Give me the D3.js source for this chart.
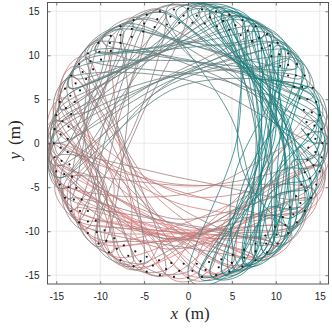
<!DOCTYPE html>
<html>
<head>
<meta charset="utf-8">
<script src="https://cdn.jsdelivr.net/npm/d3@7"></script>
<style>
body { margin: 0; background: #fff; }
svg { display: block; }
.axis text { font-family: "Liberation Sans", Arial, sans-serif; font-size: 10px; fill: #262626; }
.axis path { display: none; }
.axis line { stroke: #262626; stroke-width: 0.6; }
.label { font-family: "Liberation Serif", "Times New Roman", serif; font-size: 17px; fill: #262626; }
</style>
</head>
<body>
<div id="container"></div>
<script>
var ticks = [-15, -10, -5, 0, 5, 10, 15];

// trajectory waypoints (m), in time order: pink first, teal last
var trajX = [7.5,-2.1, -12.3,-13.7,-4.6, 1.3,5.0,-5.8, -14.8,-14.5,-7.8, -2.6,1.3,3.8, 11.5,13.2,2.8,
  -5.1,-8.4,1.9, 9.6,12.6,0, -9.6,-12.6,-1.9, 5.1,9.4,-3.6, -13.0,-14.4,-5.5,
  0,5.0,5.5, 13.0,14.4,2.5, -7.5,-11.2,0, 7.5,11.2,-1.8, -11.5,-13.7,-3.8, 2.6,7.3,-5.3,
  -14.1,-14.6,-0.6, 13.3,14.4,1.5, -9.5,-12.6,-10.3, -15.0,-12.6,-4.0, 7.5,11.2,-3.5,
  -15.2,-14.4,0, 14.6,14.4,4.3, -5.2,-9.4,-8.6, -14.5,-11.2,-5.7, 2.6,7.3,-4.7,
  -13.0,-14.4,-0.7, 11.6,13.7,-2.4, -15.3,-13.7,-6.7, 0,5.0,6.3, 13.9,14.6,1.6,
  -11.5,-13.7,-11.0, -13.2,-9.4,-7.2, -2.6,2.5,4.8, 15.0,14.5,0.6, -13.7,-14.6,-3.1,
  7.7,11.2,-4.4, -14.9,-13.2,-9.5, -7.6,-2.5,2.5, 13.0,14.4,-1.2, -14.6,-14.4,-4.3,
  5.2,9.4,-3.6, -12.6,-14.1,2.0, 14.9,14.1,6.1, -1.3,-6.2,-7.0, -14.5,-12.0,-3.7,
  9.8,12.6,-2.6, -14.9,-14.5,-8.8, -5.1,0,2.8, 11.5,13.7,-1.5, -15.1,-14.1,-10.6,
  -9.9,-5.0,-1.9, 5.1,9.4,-4.0, -13.6,-14.5,0.5, 13.8,14.5,3.2, -6.5,-10.3,-9.3,
  -14.6,-12.6,-5.9, 1.3,6.2,-4.1, -10.7,-13.2,0, 10.6,13.2,-2.8, -14.8,-14.4,-10.0,
  -7.6,-2.5,-6.2, -12.3,-8.4,-11.8, -9.9,-5.0,-8.0, -14.3,-11.2,-7.4, -2.6,2.5,-7.8,
  -15.2,-14.4,-10.0, -7.4,-2.5,-6.5, -12.4,-8.4,-11.7, -15.3,-12.6,-8.7, -5.1,0,-5.6,
  -10.6,-6.2,-10.8, -13.8,-10.3,-4.4, 2.6,7.3,-5.1, -14.7,-13.2,-11.3, -10.9,-6.2,-12.2,
  -13.2,-9.4,-6.8, -7.5,-2.5,-9.7, -15.3,-14.1,-6.4, 0,5.0,-6.3, -14.1,-14.6,-10.6,
  -9.6,-5.0,-7.2, -11.6,-7.3,-11.2, -14.5,-12.0,-8.2, -4.0,1.3,-7.8, -14.7,-14.5,-10.2,
  -8.6,-3.8,1.9, 13.0,14.4,1.5, -9.8,-12.6,-1.0, 7.7,11.2,-3.4, -14.8,-14.4,-1.8,
  11.6,13.7,2.8, -5.1,-9.4,4.0, 14.5,14.6,0.6, -13.2,-14.4,-4.0, 3.9,8.4,-4.9,
  -15.2,-13.7,-3.0, 9.6,12.6,1.0, -7.7,-11.2,3.4, 14.8,14.4,5.5, -2.6,-7.3,-7.4,
  -14.1,-14.6,-1.6, 10.7,13.2,0, -10.6,-13.2,-2.4, 5.3,9.4,-4.3, -14.9,-14.1,-1.1,
  13.8,14.5,3.2, -6.3,-10.3,1.0, 8.8,12.0,-1.6, -12.4,-14.1,-4.9, 1.3,6.2,7.1,
  11.5,13.2,3.8, -2.6,-6.2,3.0, 9.6,12.0,1.0, -7.5,-10.3,-1.0, 5.1,8.4,-2.8, -11.5,-13.2,-4.6, 0,3.8,6.5,
  14.7,14.5,12.5, 14.1,11.2,7.4, 2.6,-2.5,5.4, 7.5,2.5,9.2, 7.7,2.5,10.0,
  11.6,7.3,7.7, 5.1,2.0,8.4, 15.2,14.4,10.5, 10.6,7.7,9.5, 10.6,6.2,9.6,
  5.2,0,5.6, 5.1,0,10.6, 13.3,9.4,7.4, 3.9,0.5,8.4, 15.3,13.7,12.0,
  12.3,9.8,9.4, 8.7,3.8,10.8, 9.6,5.0,8.5, 9.6,6.9,10.5, 14.7,12.0,11.2,
  8.6,5.5,5.3, 11.5,7.3,11.0, 7.6,2.5,8.4, 11.1,8.4,11.0, 14.9,14.5,11.8,
  13.6,11.2,5.8, 6.4,1.3,11.2, 12.3,8.4,8.0, 6.3,3.0,6.5, 13.6,14.5,10.2,
  9.6,6.4,8.8, 9.6,5.0,10.2, 13.8,10.3,10.5, 12.3,9.8,8.5, 15.2,12.6,8.8,
  7.5,4.5,6.7, 13.2,9.4,11.6, 8.6,3.8,8.2, 3.9,-1.3,8.4, 15.3,14.1,9.5,
  6.3,1.3,9.8, 7.5,2.5,11.5, 10.9,6.2,8.3, 8.0,4.5,8.5, 14.3,14.6,12.9,
  14.9,13.7,9.6, 7.5,3.8,9.2, 13.0,10.3,11.0, 11.5,8.4,8.4, 7.5,3.8,9.4,
  14.1,12.0,8.5, 5.1,1.3,8.7, 14.8,13.2,10.3, 9.6,6.2,9.0, 10.6];
var trajY = [-13.0,-9.3, -8.6,-5.0,-10.0, -14.9,-13.7,-7.5, -2.6,1.3,-7.8, -14.8,-14.5,-10.3, -9.6,-6.2,-10.6,
  -14.1,-12.0,-10.8, -11.5,-7.3,-10.5, -11.5,-7.3,-10.8, -14.1,-11.2,-9.9, -7.5,-2.5,-9.5,
  -15,-13.7,-9.5, -7.5,-2.5,-9.2, -13.0,-9.4,-11, -13.0,-9.4,-10.3, -9.6,-5.0,-10.3, -14.8,-12.6,-9.1,
  -5.1,0,-7.0, -7.7,-2.5,-8.4, -11.3,-7.3,-3.8, 2.6,7.3,-5.7, -13.0,-9.4,-9.5,
  -2.7,2.5,-6, -2.6,2.5,-7.4, -14.3,-11.2,-4.0, 5.3,9.4,-4.8, -14.6,-12.6,-10.0,
  -7.5,-2.5,-10.2, -9.8,-5.0,-4.5, 0,5.0,-6.7, -15.3,-13.7,-9.0, -5.1,0,-10.5,
  -9.6,-5.0,-1.0, 7.6,11.2,-3.4, -14.8,-14.4,-8.2, -4.0,1.3,-5.6, -5.0,0,-8.5,
  -13.3,-9.4,-4.3, 1.3,6.2,-5.5, -13.2,-14.4,-9.2, -7.5,-2.5,-11.0, -2.6,2.5,-7.4,
  -14.3,-11.2,-9.9, -8.8,-3.8,-4.8, -1.3,3.8,-7.3, -14.7,-13.2,-4.9, 3.9,8.4,-5.3,
  -11.6,-7.3,-12.0, -4.0,1.3,-7.4, -13.9,-14.6,-10.6, -9.6,-5.0,-8.6, -1.3,3.8,-5.5,
  -11.8,-13.7,-10.8, -13.9,-11.2,-8.6, -6.3,-1.3,-4.2, -6.4,-1.3,-8.9, -14.0,-10.3,-4.9,
  2.6,7.3,-5.4, -14.9,-13.2,-11.3, -10.7,-6.2,-9.5, -10.6,-6.2,-10.8, -2.6,2.5,4.7,
  13.2,14.4,1.8, -8.6,-12.0,0.8, 11.8,13.7,3.5, -5.2,-9.4,4.3, 14.8,14.4,7.8,
  2.7,-2.5,-4.6, -12.8,-14.4,-2.2, 8.7,12.0,2.6, -2.7,-7.3,5.0, 14.1,14.6,2.4,
  -10.6,-13.2,-1.9, 6.4,10.3,9.5, 14.8,12.6,6.1, -1.3,-6.2,4.1, 10.9,13.2,0.6,
  -7.6,-11.2,3.8, 13.0,14.4,6.2, 1.3,-3.8,7.0, 15.2,13.7,9.0, 5.1,0,-2.8,
  -11.5,-13.7,-0.2, 9.8,12.6,2.5, -3.9,-8.4,4.8, 14.9,14.5,7.8, 3.9,-1.3,7.2,
  12.3,14.1,8.8, 7.5,2.5,8.4, 11.6,7.3,11.0, 13.3,9.4,7.3, 2.6,-2.5,6.8,
  9.8,5.0,10.6, 14.1,11.2,8.6, 5.3,0,7.0, 7.6,2.5,9.7, 14.5,12.0,6.3,
  0,-5.0,6.3, 11.5,7.3,11.0, 13.3,9.4,7.3, 2.6,-2.5,7.8, 15.0,12.6,8.8,
  5.1,0,7.3, 10.7,6.2,9.5, 10.6,6.2,10.7, 14.5,11.2,6.7, 1.3,-3.8,6.4,
  6.4,1.3,8.9, 13.6,10.3,11.5, 12.6,8.4,9.4, 8.7,3.8,10.4, 14.9,13.2,8.4,
  9.6,6.2,10.3, 14.8,13.2,11.1, 11.5,8.4,11.0, 13.0,10.3,11.5, 14.1,12.0,10.6, 9.6,6.2,10.0, 15.0,14.1,8.3,
  3.9,-1.3,-0.5, -5.1,-9.4,4.3, 15.0,14.4,1.8, -13.0,-14.4,-0.8, 13.3,14.4,2.5,
  -9.8,-12.6,2.1, 14.1,14.5,7.1, 2.7,-2.5,-3.4, -10.6,-12.4,0, 10.6,13.2,-2.4,
  -14.3,-14.6,0.6, 14.1,14.6,3.6, -7.7,-11.2,3.0, 14.5,14.6,6.3, 0,-5.0,-3.8,
  -8.6,-10.9,1.6, 12.5,14.1,0.5, -11.5,-13.7,0, 11.5,12.9,3.2, -3.9,-8.4,-7.0,
  -12.3,-13.5,-3.7, 9.6,12.6,-1.8, -13.2,-14.4,-1.3, 10.0,12.0,6.5, 4.0,-1.3,-2.2,
  -6.3,-9.4,-1.6, 13.8,14.5,3.0, -8.6,-12.0,2.5, 13.6,14.3,8.0, 6.3,1.3,-3.0,
  -11.5,-13.1,-1.0, 11.5,13.7,2.3, -6.4,-10.3,1.0, 8.6,10.9,4.0, -2.7,-7.3,-7.5,
  -13.0,-13.9,-3.5, 7.6,11.2,-2.5, -12.3,-14.1,1.6, 14.7,14.5,7.1, 1.3,-3.8,-5.5,
  -13.6,-14.5,0.2, 13.0,14.4,1.2, -10.9,-13.2,1.0, 12.8,13.9,8.0, 5.2,0,1.7,
  -1.3,-5.0,-6.3, -13.0,-14.1,-2.5, 7.5,10.3,-1.0, -9.6,-12.0,1.5, 13.0,14.1,3.4,
  -5.1,-8.4,-8.5, -14.1,-14.5,-5.0, 2.6,6.2,-3.8, -11.5,-13.2,-0.5, 10.6];

// sampled positions (m) along the arena edge
var dotX = [15.3,15.2,15.0,14.6,14.2,13.3,12.4,11.4,10.2,9.0,7.7,6.2,4.7,3.2,1.6,
  0,-1.6,-3.2,-4.7,-6.2,-7.7,-8.8,-10.2,-11.4,-12.4,-13.3,-14.0,-14.6,-15.0,-15.2,
  -15.3,-15.2,-15.0,-14.6,-14.0,-13.3,-12.4,-11.4,-10.2,-9.0,-7.7,-6.2,-4.7,-3.2,-1.6,
  0,1.6,3.2,4.7,6.2,7.7,9.0,10.2,11.4,12.4,13.3,14.0,14.6,15.0,15.2,
  14.5,14.4,14.1,13.6,13.0,12.3,11.4,10.4,9.3,8.1,6.8,5.4,4.0,2.5,1.0,
  -0.5,-2.0,-3.5,-5.0,-6.4,-7.7,-8.9,-10.1,-11.1,-12.0,-12.8,-13.4,-13.9,-14.3,-14.5,
  -14.5,-14.4,-14.1,-13.6,-13.0,-12.3,-11.4,-10.4,-9.3,-8.1,-6.8,-5.4,-4.0,-2.5,-1.0,
  0.5,2.0,3.5,5.0,6.4,7.7,8.9,10.1,11.1,12.0,12.8,13.4,13.9,14.3,14.5,
  13.7,13.5,13.2,12.7,12.1,11.4,10.5,9.5,8.4,7.3,6.0,4.7,3.3,1.9,0.5,
  -1.0,-2.4,-3.8,-5.1,-6.4,-7.7,-8.8,-9.9,-10.8,-11.6,-12.3,-12.9,-13.3,-13.6,-13.7,
  -13.7,-13.5,-13.2,-12.7,-12.1,-11.4,-10.5,-9.5,-8.4,-7.3,-6.0,-4.7,-3.3,-1.9,-0.5,
  1.0,2.4,3.8,5.1,6.4,7.7,8.8,9.9,10.8,11.6,12.3,12.9,13.3,13.6,13.7];
var dotY = [0,1.6,3.2,4.7,6.3,7.7,9.0,10.2,11.4,12.4,13.3,14.0,14.6,15.0,15.2,
  15.3,15.2,15.0,14.6,14.0,13.3,12.2,11.4,10.2,9.0,7.7,6.2,4.7,3.2,1.6,
  0,-1.6,-3.2,-4.7,-6.2,-7.7,-9.0,-10.2,-11.4,-12.4,-13.3,-14.0,-14.6,-15.0,-15.2,
  -15.3,-15.2,-15.0,-14.6,-14.0,-13.3,-12.4,-11.4,-10.2,-9.0,-7.7,-6.2,-4.7,-3.2,-1.6,
  0.5,2.0,3.5,5.0,6.4,7.7,8.9,10.1,11.1,12.0,12.8,13.4,13.9,14.3,14.5,
  14.5,14.4,14.1,13.6,13.0,12.3,11.4,10.4,9.3,8.1,6.8,5.4,4.0,2.5,1.0,
  -0.5,-2.0,-3.5,-5.0,-6.4,-7.7,-8.9,-10.1,-11.1,-12.0,-12.8,-13.4,-13.9,-14.3,-14.5,
  -14.5,-14.4,-14.1,-13.6,-13.0,-12.3,-11.4,-10.4,-9.3,-8.1,-6.8,-5.4,-4.0,-2.5,-1.0,
  1.0,2.4,3.8,5.1,6.4,7.7,8.8,9.9,10.8,11.6,12.3,12.9,13.3,13.6,13.7,
  13.7,13.5,13.2,12.7,12.1,11.4,10.5,9.5,8.4,7.3,6.0,4.7,3.3,1.9,0.5,
  -1.0,-2.4,-3.8,-5.1,-6.4,-7.7,-8.8,-9.9,-10.8,-11.6,-12.3,-12.9,-13.3,-13.6,-13.7,
  -13.7,-13.5,-13.2,-12.7,-12.1,-11.4,-10.5,-9.5,-8.4,-7.3,-6.0,-4.7,-3.3,-1.9,-0.5];

var width = 332;
var height = 328;
var svg = d3.select("div#container").append("svg")
    .attr("width", width)
    .attr("height", height);

var x = d3.scaleLinear().domain([-16, 16]).range([47.5, 328.5]);
var y = d3.scaleLinear().domain([-16, 16]).range([284, 2.5]);

svg.append("clipPath").attr("id", "plot-clip")
  .append("rect")
    .attr("x", x(-16)).attr("y", y(16))
    .attr("width", x(16) - x(-16)).attr("height", y(-16) - y(16));

// grid
var grid = svg.append("g").attr("class", "grid");
grid.selectAll("line.gx").data(ticks).enter().append("line")
    .attr("x1", d => x(d)).attr("x2", d => x(d))
    .attr("y1", y(-16)).attr("y2", y(16))
    .attr("stroke", "#e6e6e6").attr("stroke-width", 0.8);
grid.selectAll("line.gy").data(ticks).enter().append("line")
    .attr("y1", d => y(d)).attr("y2", d => y(d))
    .attr("x1", x(-16)).attr("x2", x(16))
    .attr("stroke", "#e6e6e6").attr("stroke-width", 0.8);

// trajectory, each piece coloured by time (Catmull-Rom pieces)
var n = Math.min(trajX.length, trajY.length);
var color = d3.scaleLinear()
    .domain([0, n - 2])
    .range(["#f08080", "#008080"]);

var pts = d3.range(n).map(function(i) { return [x(trajX[i]), y(trajY[i])]; });
var segs = d3.range(n - 1);

svg.append("g").attr("clip-path", "url(#plot-clip)")
  .selectAll("path")
  .data(segs)
  .enter()
  .append("path")
    .attr("d", function(i) {
      var p0 = pts[Math.max(i - 1, 0)], p1 = pts[i], p2 = pts[i + 1], p3 = pts[Math.min(i + 2, n - 1)];
      var p = d3.path();
      p.moveTo(p1[0], p1[1]);
      p.bezierCurveTo(p1[0] + (p2[0] - p0[0]) / 6, p1[1] + (p2[1] - p0[1]) / 6,
                      p2[0] - (p3[0] - p1[0]) / 6, p2[1] - (p3[1] - p1[1]) / 6,
                      p2[0], p2[1]);
      return p.toString();
    })
    .attr("fill", "none")
    .attr("stroke", function(i) { return color(i); })
    .attr("stroke-width", 0.9)
    .attr("stroke-opacity", 0.9);

// edge samples
svg.append("g")
  .selectAll("circle")
  .data(dotX)
  .enter()
  .append("circle")
    .attr("cx", function(d) { return x(d); })
    .attr("cy", function(d, i) { return y(dotY[i]); })
    .attr("r", 1.1)
    .attr("fill", "#1a1a1a");

// axes with inward ticks
svg.append("g").attr("class", "axis")
    .attr("transform", "translate(0," + y(-16) + ")")
    .call(d3.axisBottom(x).tickValues(ticks).tickSize(-3).tickPadding(9).tickFormat(String));
svg.append("g").attr("class", "axis")
    .attr("transform", "translate(" + x(-16) + ",0)")
    .call(d3.axisLeft(y).tickValues(ticks).tickSize(-3).tickPadding(8).tickFormat(String));
svg.append("g").attr("class", "axis")
    .attr("transform", "translate(0," + y(16) + ")")
    .call(d3.axisTop(x).tickValues(ticks).tickSize(-3).tickFormat(""));
svg.append("g").attr("class", "axis")
    .attr("transform", "translate(" + x(16) + ",0)")
    .call(d3.axisRight(y).tickValues(ticks).tickSize(-3).tickFormat(""));

svg.append("rect")
    .attr("x", x(-16)).attr("y", y(16))
    .attr("width", x(16) - x(-16)).attr("height", y(-16) - y(16))
    .attr("fill", "none").attr("stroke", "#555").attr("stroke-width", 1);

// axis labels
var xl = svg.append("text").attr("class", "label")
    .attr("x", 190).attr("y", 319).attr("text-anchor", "middle");
xl.append("tspan").attr("font-style", "italic").text("x");
xl.append("tspan").attr("dx", 7).text("(m)");

var yl = svg.append("text").attr("class", "label")
    .attr("transform", "translate(20,140) rotate(-90)")
    .attr("text-anchor", "middle");
yl.append("tspan").attr("font-style", "italic").text("y");
yl.append("tspan").attr("dx", 7).text("(m)");
</script>
</body>
</html>
